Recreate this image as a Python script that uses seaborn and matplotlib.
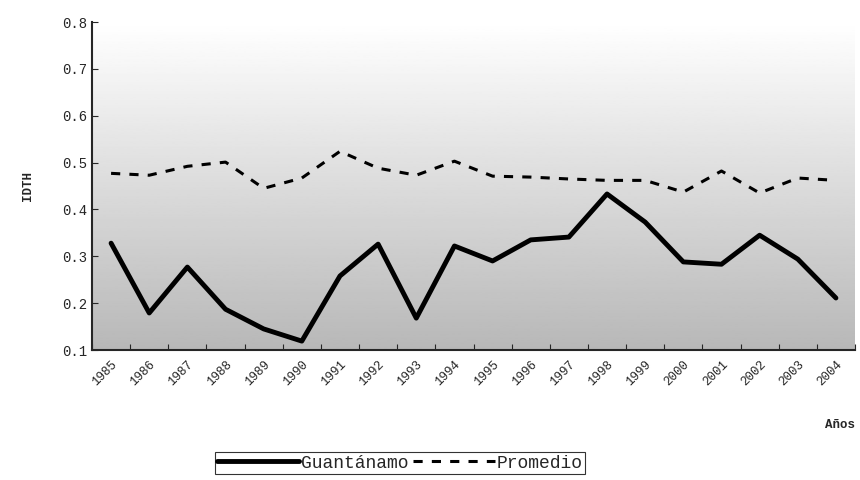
import numpy as np
import pandas as pd
import matplotlib.pyplot as plt
import seaborn as sns

years = [str(y) for y in range(1985, 2005)]
guantanamo = [0.328, 0.179, 0.277, 0.187, 0.145, 0.119, 0.258, 0.326, 0.168, 0.322,
              0.290, 0.335, 0.341, 0.433, 0.373, 0.288, 0.283, 0.345, 0.294, 0.211]
promedio = [0.477, 0.473, 0.492, 0.501, 0.445, 0.467, 0.524, 0.488, 0.473, 0.503,
            0.471, 0.469, 0.465, 0.462, 0.462, 0.437, 0.482, 0.435, 0.467, 0.462]

sns.set_style('ticks')
plt.rcParams['font.family'] = ['Liberation Mono', 'DejaVu Sans Mono']

df = pd.DataFrame({'x': np.arange(len(years)), 'Guantánamo': guantanamo, 'Promedio': promedio})

fig = plt.figure(figsize=(8.6, 4.8), dpi=100)
ax = fig.add_axes([92/860, 1 - 350/480, (855-92)/860, (350-22)/480])

grad = np.linspace(1.0, 0.72, 256).reshape(-1, 1)
ax.imshow(grad, cmap='gray', vmin=0, vmax=1, aspect='auto',
          extent=[-0.5, len(years) - 0.5, 0.1, 0.8], zorder=0)

sns.lineplot(data=df, x='x', y='Guantánamo', ax=ax, color='black', lw=3.5,
             label='Guantánamo', zorder=3, legend=False)
sns.lineplot(data=df, x='x', y='Promedio', ax=ax, color='black', lw=2.2,
             linestyle=(0, (3, 3)), label='Promedio', zorder=3, legend=False)

ax.set_xlim(-0.5, len(years) - 0.5)
ax.set_ylim(0.1, 0.8)
ax.set_yticks(np.arange(0.1, 0.81, 0.1))
ax.set_yticklabels([f'{v:.1f}' for v in np.arange(0.1, 0.81, 0.1)], fontsize=10)
ax.set_xticks(np.arange(-0.5, len(years), 1), minor=False)
ax.set_xticklabels([''] * (len(years) + 1))
ax.set_xticks(np.arange(len(years)), minor=True)
ax.set_xticklabels(years, minor=True, rotation=45, ha='right', rotation_mode='anchor', fontsize=9)
ax.tick_params(axis='x', which='minor', length=0, pad=6)
ax.tick_params(axis='both', which='major', direction='in', length=4)
ax.spines['top'].set_visible(False)
ax.spines['right'].set_visible(False)
ax.spines['left'].set_linewidth(1.5)
ax.spines['bottom'].set_linewidth(1.5)
ax.set_xlabel('')
ax.set_ylabel('IDTH', fontsize=9, fontweight='bold', labelpad=20)
fig.text(855/860, 1 - 425/480, 'Años', ha='right', va='center', fontsize=9, fontweight='bold')

handles, labels = ax.get_legend_handles_labels()
leg = fig.legend(handles, labels, loc='center', bbox_to_anchor=(400/860, 1 - 463/480), ncol=2,
                 frameon=True, fancybox=False, edgecolor='black', fontsize=13,
                 handlelength=4.5, handletextpad=0.1, columnspacing=0.3, borderpad=0.15)
leg.get_frame().set_linewidth(0.8)

fig.savefig('out.png', dpi=100)
